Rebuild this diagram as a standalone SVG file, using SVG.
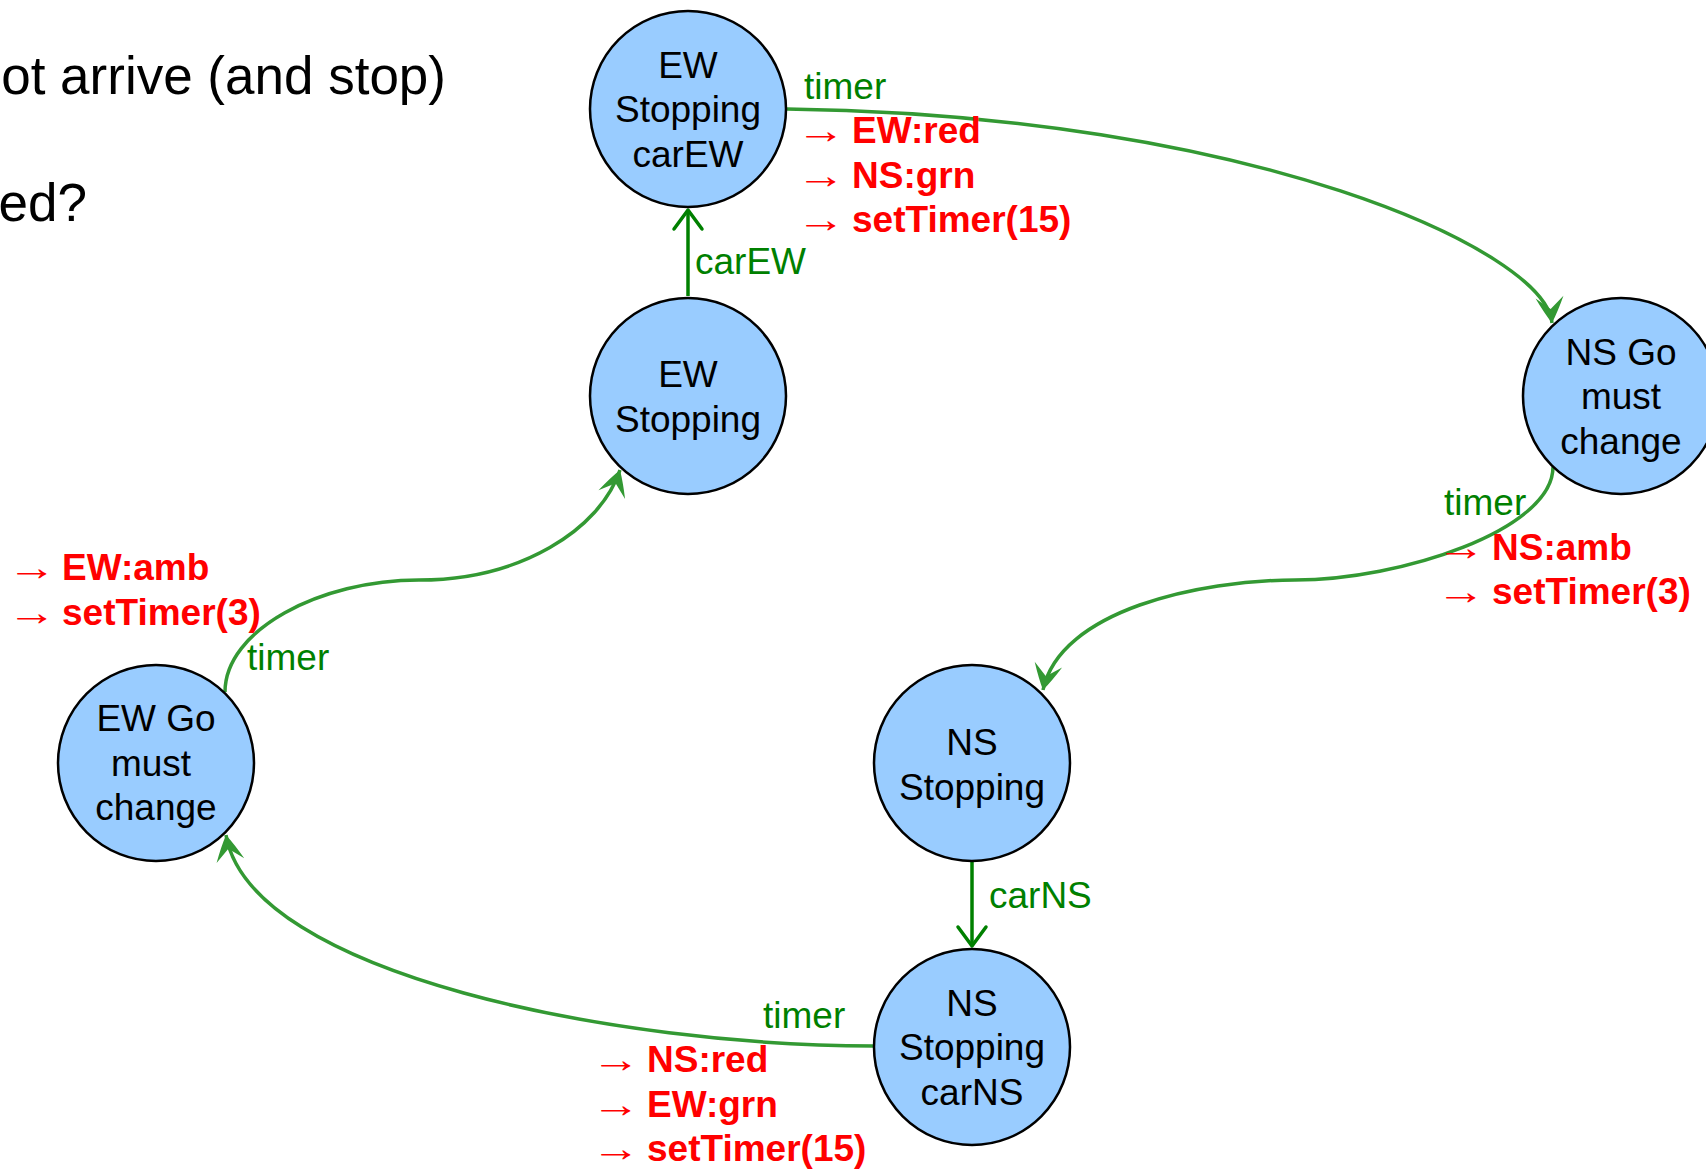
<svg xmlns="http://www.w3.org/2000/svg" width="1706" height="1169" viewBox="0 0 1706 1169">
  <style>
    .state circle { fill: #99CCFF; stroke: #000000; stroke-width: 2.5; }
    .state text { font-family: "Liberation Sans", Arial, sans-serif; font-size: 37px; fill: #000000; text-anchor: middle; }
    .title { font-family: "Liberation Sans", Arial, sans-serif; font-size: 53px; fill: #000000; }
    .curve { fill: none; stroke: #339933; stroke-width: 3.5; marker-end: url(#stealth); }
    .straight { fill: none; stroke: #008000; stroke-width: 3.5; marker-end: url(#openV); }
    .cond { font-family: "Liberation Sans", Arial, sans-serif; font-size: 37px; fill: #008000; }
    .act { font-family: "Liberation Sans", Arial, sans-serif; font-size: 37px; fill: #FF0000; font-weight: bold; }
    .op { font-family: "Liberation Sans", Arial, sans-serif; font-size: 37px; fill: #FF0000; font-weight: normal; }
  </style>
  <defs>
    <marker id="stealth" markerUnits="userSpaceOnUse" viewBox="-28 -16 32 32" markerWidth="32" markerHeight="32" refX="0" refY="0" orient="auto">
      <path d="M0,0 Q-11,-7 -26,-14 L-14,0 L-26,14 Q-11,7 0,0 Z" fill="#339933"/>
    </marker>
    <marker id="openV" markerUnits="userSpaceOnUse" viewBox="-24 -18 28 36" markerWidth="28" markerHeight="36" refX="0" refY="0" orient="auto">
      <path d="M-19,-14 L0,0 L-19,14" fill="none" stroke="#008000" stroke-width="3.5" stroke-linejoin="round" stroke-linecap="round"/>
    </marker>
  </defs>

  <rect width="1706" height="1169" fill="#FFFFFF"/>

  <!-- slide text, running off the left edge -->
  <text class="title" x="446" y="94" text-anchor="end">ot arrive (and stop)</text>
  <text class="title" x="87" y="221" text-anchor="end">ed?</text>

  <!-- transitions -->
  <g id="connectors">
    <path class="straight" d="M688,296 L688,210"/>
    <path class="curve" d="M787,109 C1250,115 1545,250 1552,323"/>
    <path class="curve" d="M1553,467 C1553,530 1400,580 1295,580 C1200,580 1060,610 1043,690"/>
    <path class="straight" d="M972,862 L972,946"/>
    <path class="curve" d="M874,1046 C620,1046 250,975 226,835"/>
    <path class="curve" d="M225,692 C225,630 320,580 419,580 C520,580 600,530 620,470"/>

    <!-- input conditions -->
    <text class="cond" x="695" y="274">carEW</text>
    <text class="cond" x="804" y="99">timer</text>
    <text class="cond" x="1444" y="515">timer</text>
    <text class="cond" x="989" y="908">carNS</text>
    <text class="cond" x="763" y="1028">timer</text>
    <text class="cond" x="247" y="670">timer</text>

    <!-- output actions -->
    <text class="op" x="796" y="143" textLength="49" lengthAdjust="spacingAndGlyphs">→</text>
    <text class="act" x="852" y="143">EW:red</text>
    <text class="op" x="796" y="187.5" textLength="49" lengthAdjust="spacingAndGlyphs">→</text>
    <text class="act" x="852" y="187.5">NS:grn</text>
    <text class="op" x="796" y="232" textLength="49" lengthAdjust="spacingAndGlyphs">→</text>
    <text class="act" x="852" y="232">setTimer(15)</text>

    <text class="op" x="1436" y="560" textLength="49" lengthAdjust="spacingAndGlyphs">→</text>
    <text class="act" x="1492" y="560">NS:amb</text>
    <text class="op" x="1436" y="604" textLength="49" lengthAdjust="spacingAndGlyphs">→</text>
    <text class="act" x="1492" y="604">setTimer(3)</text>

    <text class="op" x="591" y="1072" textLength="49" lengthAdjust="spacingAndGlyphs">→</text>
    <text class="act" x="647" y="1072">NS:red</text>
    <text class="op" x="591" y="1116.5" textLength="49" lengthAdjust="spacingAndGlyphs">→</text>
    <text class="act" x="647" y="1116.5">EW:grn</text>
    <text class="op" x="591" y="1161" textLength="49" lengthAdjust="spacingAndGlyphs">→</text>
    <text class="act" x="647" y="1161">setTimer(15)</text>

    <text class="op" x="7" y="580" textLength="49" lengthAdjust="spacingAndGlyphs">→</text>
    <text class="act" x="62" y="580">EW:amb</text>
    <text class="op" x="7" y="625" textLength="49" lengthAdjust="spacingAndGlyphs">→</text>
    <text class="act" x="62" y="625">setTimer(3)</text>
  </g>

  <!-- states -->
  <g id="ew-stopping-carew" class="state">
    <circle cx="688" cy="109" r="98"/>
    <text x="688" y="77.5">EW</text>
    <text x="688" y="122">Stopping</text>
    <text x="688" y="166.5">carEW</text>
  </g>
  <g id="ew-stopping" class="state">
    <circle cx="688" cy="396" r="98"/>
    <text x="688" y="387">EW</text>
    <text x="688" y="431.5">Stopping</text>
  </g>
  <g id="ns-go-must-change" class="state">
    <circle cx="1621" cy="396" r="98"/>
    <text x="1621" y="364.5">NS Go</text>
    <text x="1621" y="409">must</text>
    <text x="1621" y="453.5">change</text>
  </g>
  <g id="ns-stopping" class="state">
    <circle cx="972" cy="763" r="98"/>
    <text x="972" y="755">NS</text>
    <text x="972" y="799.5">Stopping</text>
  </g>
  <g id="ns-stopping-carns" class="state">
    <circle cx="972" cy="1047" r="98"/>
    <text x="972" y="1015.5">NS</text>
    <text x="972" y="1060">Stopping</text>
    <text x="972" y="1104.5">carNS</text>
  </g>
  <g id="ew-go-must-change" class="state">
    <circle cx="156" cy="763" r="98"/>
    <text x="156" y="731">EW Go</text>
    <text x="151" y="775.5">must</text>
    <text x="156" y="820">change</text>
  </g>
</svg>
